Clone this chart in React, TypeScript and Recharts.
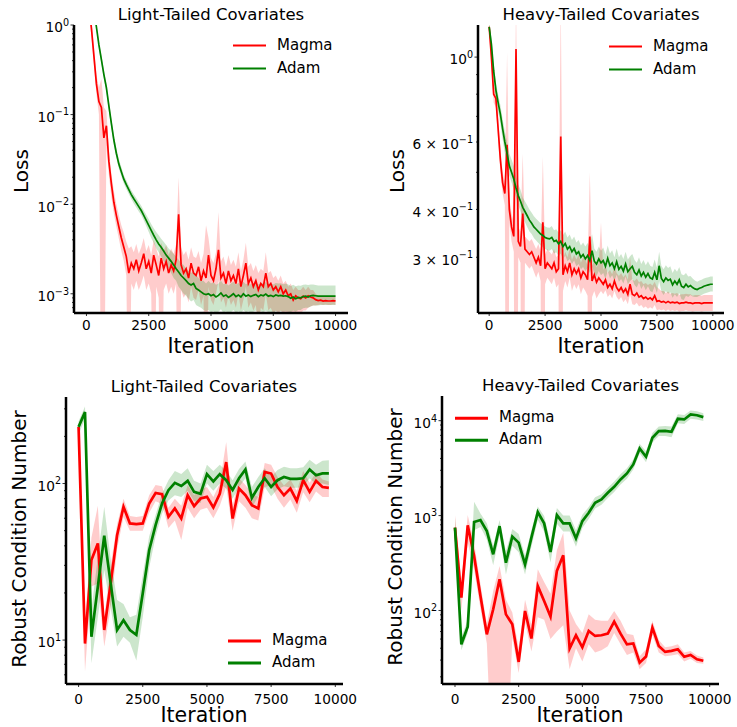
import { Area, ComposedChart, Legend, Line, XAxis, YAxis } from "recharts"

const FONT = "DejaVu Sans"
const RED = "#ff0000"
const GREEN = "#008000"

// iteration grids (loss logged every 100 steps, condition number every 250)
const topIters = Array.from({ length: 101 }, (_, i) => i * 100)
const bottomIters = Array.from({ length: 40 }, (_, i) => i * 250)

const xTicks = [0, 2500, 5000, 7500, 10000]

// ---- Loss, light-tailed covariates ----
const ltMagma = [
  2.6, 1.6, 0.92, 0.45, 0.22, 0.14, 0.12, 0.055, 0.075, 0.03,
  0.017, 0.0105, 0.0075, 0.0056, 0.0042, 0.0033, 0.0026, 0.0017, 0.0022, 0.0019,
  0.0024, 0.0018, 0.0022, 0.0028, 0.0019, 0.0023, 0.0017, 0.0027, 0.0021, 0.0016,
  0.0025, 0.0019, 0.0023, 0.0017, 0.0021, 0.0018, 0.0024, 0.0077, 0.0021, 0.0017,
  0.0019, 0.0015, 0.0022, 0.0017, 0.0016, 0.002, 0.0014, 0.0018, 0.0015, 0.0027,
  0.0016, 0.0014, 0.0019, 0.0031, 0.0015, 0.0017, 0.0013, 0.0018, 0.0014, 0.0016,
  0.0013, 0.0019, 0.0012, 0.0016, 0.0022, 0.0013, 0.0015, 0.0012, 0.0014, 0.0011,
  0.0013, 0.0012, 0.0017, 0.0012, 0.0013, 0.0011, 0.0012, 0.00105, 0.0012, 0.001,
  0.0011, 0.00095, 0.001, 0.00085, 0.00095, 0.0009, 0.00088, 0.00094, 0.0009, 0.00095,
  0.00092, 0.0009, 0.00086, 0.00084, 0.00085, 0.00083, 0.00084, 0.00083, 0.00083, 0.00084,
  0.00083,
]
const ltMagmaLo = [
  2.2, 1.3, 0.75, 0.36, 0.17, 0.1, 0.00001, 0.00001, 0.045, 0.021,
  0.012, 0.0078, 0.0056, 0.0041, 0.003, 0.0023, 0.0016, 0.00001, 0.0013, 0.0011,
  0.0014, 0.0011, 0.0013, 0.0016, 0.0011, 0.0013, 0.001, 0.00001, 0.0012, 0.0009,
  0.00001, 0.0011, 0.0013, 0.001, 0.0012, 0.001, 0.0013, 0.00001, 0.0011, 0.0009,
  0.001, 0.0008, 0.0012, 0.0009, 0.00085, 0.0011, 0.00075, 0.00095, 0.00001, 0.0012,
  0.00085, 0.00075, 0.001, 0.0014, 0.0008, 0.0009, 0.0007, 0.00095, 0.00075, 0.00085,
  0.0007, 0.001, 0.00065, 0.00085, 0.0012, 0.0007, 0.0008, 0.00065, 0.00075, 0.0004,
  0.0007, 0.00065, 0.001, 0.00065, 0.0007, 0.0006, 0.00065, 0.0006, 0.00065, 0.0006,
  0.00062, 0.00058, 0.0006, 0.00055, 0.0006, 0.0006, 0.0006, 0.00065, 0.00065, 0.0007,
  0.00072, 0.00074, 0.00074, 0.00075, 0.00076, 0.00075, 0.00076, 0.00075, 0.00075, 0.00076,
  0.00075,
]
const ltMagmaHi = [
  3.0, 1.9, 1.1, 0.55, 0.28, 0.2, 0.25, 0.12, 0.11, 0.04,
  0.022, 0.014, 0.01, 0.0075, 0.0058, 0.0048, 0.0038, 0.0032, 0.0034, 0.0029,
  0.0036, 0.0028, 0.0033, 0.0042, 0.003, 0.0035, 0.0027, 0.004, 0.0032, 0.0026,
  0.0037, 0.003, 0.0035, 0.0027, 0.0032, 0.0028, 0.0036, 0.02, 0.0033, 0.0027,
  0.003, 0.0024, 0.0033, 0.0026, 0.0025, 0.003, 0.0022, 0.0028, 0.0058, 0.0042,
  0.0025, 0.0022, 0.0029, 0.0082, 0.0023, 0.0026, 0.002, 0.0027, 0.0021, 0.0024,
  0.002, 0.0029, 0.0018, 0.0024, 0.0037, 0.002, 0.0022, 0.0018, 0.0021, 0.0017,
  0.0019, 0.0018, 0.0029, 0.0017, 0.0018, 0.0015, 0.0016, 0.0014, 0.0016, 0.0013,
  0.0014, 0.0012, 0.0013, 0.0011, 0.0012, 0.0011, 0.0011, 0.0012, 0.0011, 0.0012,
  0.0011, 0.0011, 0.001, 0.00095, 0.00095, 0.00093, 0.00093, 0.00092, 0.00092, 0.00093,
  0.00092,
]
const ltAdam = [
  6, 4, 2.5, 1.5, 0.95, 0.6, 0.41, 0.28, 0.2, 0.125,
  0.08, 0.052, 0.037, 0.028, 0.023, 0.019, 0.0165, 0.0145, 0.0128, 0.0115,
  0.0104, 0.0094, 0.0085, 0.0075, 0.0066, 0.0058, 0.0051, 0.0045, 0.004, 0.0036,
  0.0033, 0.003, 0.0027, 0.0025, 0.0023, 0.0021, 0.0019, 0.00175, 0.0016, 0.0015,
  0.0014, 0.0013, 0.00125, 0.0013, 0.00115, 0.0011, 0.00105, 0.001, 0.00098, 0.001,
  0.00095, 0.00098, 0.00092, 0.00096, 0.00102, 0.00094, 0.00097, 0.00091, 0.00095, 0.001,
  0.00093, 0.00097, 0.00092, 0.001, 0.00094, 0.00097, 0.00093, 0.00096, 0.00098, 0.00093,
  0.00097, 0.00095, 0.00099, 0.00094, 0.00096, 0.00093, 0.00097, 0.00095, 0.00096, 0.00094,
  0.00095, 0.00093, 0.00089, 0.00092, 0.00088, 0.00091, 0.0009, 0.00093, 0.00094, 0.00092,
  0.00095, 0.00096, 0.00095, 0.00094, 0.00094, 0.00094, 0.00094, 0.00094, 0.00094, 0.00094,
  0.00094,
]
const ltAdamLo = [
  5.6, 3.7, 2.3, 1.4, 0.88, 0.55, 0.37, 0.25, 0.18, 0.11,
  0.07, 0.046, 0.033, 0.025, 0.0205, 0.017, 0.0148, 0.013, 0.0114, 0.0102,
  0.0092, 0.0083, 0.0075, 0.0066, 0.0057, 0.0049, 0.0042, 0.0037, 0.0032, 0.0029,
  0.0026, 0.0023, 0.0021, 0.0019, 0.0017, 0.0015, 0.0014, 0.0012, 0.0011, 0.001,
  0.00095, 0.00088, 0.00082, 0.00085, 0.00075, 0.00072, 0.0007, 0.00066, 0.00064, 0.00066,
  0.00062, 0.00064, 0.0006, 0.00063, 0.00067, 0.00061, 0.00064, 0.0006, 0.00062, 0.00066,
  0.00061, 0.00064, 0.0006, 0.00066, 0.00062, 0.00064, 0.00061, 0.00063, 0.00065, 0.00061,
  0.00064, 0.00062, 0.00065, 0.00062, 0.00063, 0.00061, 0.00064, 0.00063, 0.00064, 0.00063,
  0.00064, 0.00063, 0.00062, 0.00065, 0.00063, 0.00066, 0.00066, 0.00069, 0.0007, 0.0007,
  0.00072, 0.00074, 0.00074, 0.00074, 0.00075, 0.00075, 0.00075, 0.00075, 0.00075, 0.00075,
  0.00075,
]
const ltAdamHi = [
  6.5, 4.3, 2.7, 1.6, 1.03, 0.65, 0.45, 0.31, 0.22, 0.14,
  0.09, 0.059, 0.042, 0.032, 0.026, 0.021, 0.0185, 0.0162, 0.0143, 0.0129,
  0.0117, 0.0106, 0.0096, 0.0085, 0.0076, 0.0068, 0.006, 0.0054, 0.0049, 0.0045,
  0.0041, 0.0038, 0.0035, 0.0032, 0.003, 0.0028, 0.0026, 0.0024, 0.0022, 0.0021,
  0.0019, 0.0018, 0.0017, 0.0018, 0.0016, 0.0015, 0.0014, 0.0014, 0.0013, 0.0014,
  0.0013, 0.00135, 0.00126, 0.0013, 0.0014, 0.00128, 0.00132, 0.00124, 0.0013, 0.00136,
  0.00127, 0.00132, 0.00126, 0.00136, 0.00128, 0.00132, 0.00127, 0.00131, 0.00133, 0.00127,
  0.00132, 0.0013, 0.00135, 0.00128, 0.00131, 0.00127, 0.00132, 0.0013, 0.00131, 0.00128,
  0.0013, 0.00127, 0.00122, 0.00126, 0.00121, 0.00124, 0.00123, 0.00126, 0.00127, 0.00125,
  0.00127, 0.00127, 0.00125, 0.00124, 0.00124, 0.00124, 0.00124, 0.00124, 0.00124, 0.00124,
  0.00124,
]

// ---- Loss, heavy-tailed covariates ----
const htMagma = [
  1.2, 1.0, 0.8, 0.78, 0.65, 0.54, 0.47, 0.44, 0.59, 0.4,
  0.36, 0.34, 1.05, 0.33, 0.32, 0.39, 0.315, 0.31, 0.305, 0.31,
  0.3, 0.29, 0.3, 0.285, 0.37, 0.28, 0.29, 0.285, 0.28, 0.29,
  0.275, 0.28, 0.62, 0.27, 0.285, 0.275, 0.29, 0.27, 0.28, 0.272,
  0.28, 0.265, 0.275, 0.27, 0.262, 0.34, 0.26, 0.27, 0.258, 0.265,
  0.26, 0.255, 0.262, 0.25, 0.255, 0.248, 0.26, 0.25, 0.245, 0.25,
  0.243, 0.248, 0.24, 0.255, 0.24, 0.238, 0.242, 0.236, 0.238, 0.234,
  0.236, 0.233, 0.235, 0.232, 0.238, 0.23, 0.231, 0.229, 0.23, 0.228,
  0.23, 0.228, 0.229, 0.228, 0.229, 0.227, 0.228, 0.228, 0.229, 0.228,
  0.228, 0.227, 0.228, 0.228, 0.228, 0.227, 0.228, 0.228, 0.228, 0.228,
  0.228,
]
const htMagmaLo = [
  1.15, 0.95, 0.76, 0.74, 0.61, 0.5, 0.44, 0.41, 0.01, 0.37,
  0.33, 0.31, 0.01, 0.3, 0.29, 0.01, 0.29, 0.285, 0.28, 0.285,
  0.275, 0.265, 0.275, 0.26, 0.01, 0.255, 0.265, 0.26, 0.255, 0.265,
  0.25, 0.255, 0.01, 0.245, 0.26, 0.25, 0.265, 0.245, 0.255, 0.248,
  0.255, 0.24, 0.25, 0.245, 0.238, 0.01, 0.236, 0.245, 0.234, 0.24,
  0.245, 0.24, 0.246, 0.236, 0.24, 0.234, 0.245, 0.236, 0.232, 0.236,
  0.229, 0.233, 0.226, 0.24, 0.226, 0.225, 0.228, 0.223, 0.225, 0.221,
  0.223, 0.22, 0.222, 0.22, 0.225, 0.218, 0.219, 0.218, 0.219, 0.217,
  0.219, 0.217, 0.218, 0.217, 0.218, 0.216, 0.217, 0.217, 0.218, 0.217,
  0.217, 0.216, 0.217, 0.217, 0.217, 0.216, 0.217, 0.217, 0.217, 0.217,
  0.217,
]
const htMagmaHi = [
  1.25, 1.05, 0.84, 0.82, 0.69, 0.58, 0.5, 0.47, 1.03, 0.43,
  0.39, 0.37, 1.4, 0.36, 0.35, 0.56, 0.34, 0.335, 0.33, 0.335,
  0.325, 0.315, 0.325, 0.31, 0.55, 0.305, 0.315, 0.31, 0.305, 0.315,
  0.3, 0.305, 1.4, 0.295, 0.31, 0.3, 0.315, 0.295, 0.305, 0.296,
  0.305, 0.29, 0.3, 0.295, 0.286, 0.5, 0.284, 0.295, 0.282, 0.29,
  0.37, 0.278, 0.286, 0.273, 0.278, 0.271, 0.284, 0.273, 0.268, 0.273,
  0.266, 0.271, 0.262, 0.3, 0.262, 0.26, 0.264, 0.258, 0.26, 0.255,
  0.257, 0.254, 0.256, 0.253, 0.259, 0.251, 0.248, 0.245, 0.245, 0.242,
  0.244, 0.241, 0.242, 0.241, 0.242, 0.239, 0.24, 0.24, 0.241, 0.24,
  0.24, 0.238, 0.239, 0.239, 0.239, 0.238, 0.239, 0.239, 0.239, 0.239,
  0.239,
]
const htAdam = [
  1.2, 1.08, 0.92, 0.82, 0.76, 0.71, 0.65, 0.6, 0.56, 0.52,
  0.5, 0.48, 0.455, 0.435, 0.42, 0.405, 0.395, 0.385, 0.375, 0.368,
  0.36, 0.355, 0.35, 0.345, 0.342, 0.338, 0.336, 0.335, 0.338, 0.33,
  0.332, 0.325, 0.33, 0.32, 0.326, 0.315, 0.32, 0.31, 0.316, 0.306,
  0.31, 0.3, 0.305, 0.297, 0.303, 0.294, 0.312, 0.293, 0.288, 0.297,
  0.29, 0.294, 0.284, 0.298, 0.285, 0.29, 0.28, 0.292, 0.279, 0.284,
  0.276, 0.288, 0.275, 0.28, 0.284, 0.274, 0.27, 0.278, 0.268, 0.274,
  0.266, 0.272, 0.265, 0.263, 0.274, 0.262, 0.285, 0.264, 0.259, 0.265,
  0.261, 0.263, 0.254, 0.26, 0.255, 0.262, 0.252, 0.25, 0.255, 0.251,
  0.253, 0.25, 0.248, 0.247, 0.249, 0.25, 0.252, 0.253, 0.254, 0.255,
  0.255,
]
const htAdamLo = [
  1.16, 1.04, 0.88, 0.78, 0.72, 0.67, 0.61, 0.56, 0.52, 0.49,
  0.47, 0.45, 0.43, 0.41, 0.395, 0.38, 0.37, 0.36, 0.35, 0.345,
  0.337, 0.332, 0.327, 0.322, 0.319, 0.315, 0.313, 0.312, 0.315, 0.307,
  0.309, 0.302, 0.307, 0.297, 0.303, 0.293, 0.297, 0.288, 0.294, 0.284,
  0.288, 0.279, 0.283, 0.276, 0.281, 0.273, 0.285, 0.272, 0.268, 0.276,
  0.269, 0.273, 0.263, 0.276, 0.264, 0.269, 0.26, 0.27, 0.259, 0.263,
  0.256, 0.267, 0.255, 0.26, 0.263, 0.254, 0.25, 0.258, 0.248, 0.254,
  0.246, 0.252, 0.245, 0.243, 0.252, 0.242, 0.26, 0.244, 0.239, 0.245,
  0.241, 0.243, 0.235, 0.24, 0.236, 0.242, 0.233, 0.232, 0.238, 0.236,
  0.239, 0.237, 0.236, 0.236, 0.238, 0.239, 0.241, 0.242, 0.243, 0.244,
  0.244,
]
const htAdamHi = [
  1.24, 1.12, 0.96, 0.86, 0.8, 0.75, 0.69, 0.64, 0.6, 0.56,
  0.54, 0.52, 0.49, 0.465, 0.45, 0.43, 0.42, 0.41, 0.4, 0.392,
  0.384, 0.378, 0.373, 0.368, 0.365, 0.361, 0.359, 0.358, 0.362, 0.353,
  0.355, 0.348, 0.353, 0.343, 0.35, 0.338, 0.344, 0.333, 0.34, 0.328,
  0.333, 0.322, 0.328, 0.32, 0.327, 0.317, 0.345, 0.316, 0.31, 0.32,
  0.312, 0.318, 0.305, 0.322, 0.307, 0.313, 0.3, 0.316, 0.3, 0.306,
  0.297, 0.31, 0.296, 0.302, 0.306, 0.295, 0.29, 0.3, 0.288, 0.295,
  0.286, 0.293, 0.285, 0.283, 0.296, 0.282, 0.31, 0.285, 0.279, 0.286,
  0.281, 0.284, 0.273, 0.28, 0.275, 0.283, 0.271, 0.269, 0.273, 0.267,
  0.268, 0.264, 0.261, 0.259, 0.261, 0.262, 0.264, 0.265, 0.266, 0.267,
  0.267,
]

// ---- Robust condition number, light-tailed ----
const lcMagma = [
  230, 9.5, 32.4, 41.4, 11.6, 23, 46.8, 71, 55.6, 55,
  55.6, 74.5, 87, 85.4, 61.3, 69.3, 59.8, 84.2, 71.6, 80.2,
  82.2, 70.3, 86, 137, 59.8, 92.9, 84.2, 72.8, 69.3, 118.6,
  115.8, 95, 84.2, 92.9, 77.4, 105, 88.5, 104, 95, 93.8,
]
const lcMagmaLo = [
  205, 6.3, 22, 23, 9.1, 16, 38, 61, 50, 50,
  50, 65, 77, 74, 52, 58, 43.5, 70, 60, 68,
  70, 60, 72, 95, 50, 77, 70, 60, 58, 95,
  97, 80, 70, 79, 65, 88, 76, 89, 82, 82,
]
const lcMagmaHi = [
  250, 13, 45, 72, 14, 30, 55, 80, 62, 61,
  62, 84, 98, 96, 70, 80, 72, 98, 84, 92,
  95, 82, 100, 184, 72, 108, 98, 86, 82, 135,
  132, 110, 97, 106, 90, 120, 101, 118, 106, 103,
]
const lcAdam = [
  230, 286, 10.5, 21.9, 46.4, 23, 11.6, 13.4, 11.6, 10.8,
  19.9, 37.5, 54.2, 74.5, 90.6, 101, 96.5, 104, 88.5, 86,
  114.7, 103, 114.7, 105, 91, 108, 122.8, 80.9, 95, 108,
  95, 105, 110, 107, 107, 108, 123, 113, 116, 116,
]
const lcAdamLo = [
  205, 260, 7.1, 14, 28, 16, 9.1, 10.5, 9.6, 7.4,
  14, 29, 46, 64, 78, 84, 82, 90, 77, 75,
  100, 90, 100, 93, 80, 95, 108, 70, 83, 95,
  83, 92, 96, 94, 94, 95, 108, 99, 100, 98,
]
const lcAdamHi = [
  250, 310, 15.5, 34, 71, 33, 18, 17, 14, 14.5,
  26, 46, 63, 86, 105, 120, 115, 125, 104, 100,
  132, 120, 132, 120, 105, 124, 138, 95, 110, 125,
  110, 122, 128, 125, 125, 127, 142, 132, 140, 141,
]

// ---- Robust condition number, heavy-tailed ----
const hcMagma = [
  747, 137, 789, 375, 142, 56, 103, 213, 91, 71.6,
  28.7, 98.9, 50.6, 181, 126, 86.3, 261, 381, 39.7, 54.8,
  40.9, 60.8, 53.9, 54.8, 57.1, 76.3, 57, 44, 45, 28.2,
  32.7, 66, 42.3, 36.6, 37.5, 39, 32.5, 34, 30.6, 29.5,
]
const hcMagmaLo = [
  519, 100, 519, 270, 105, 45, 1, 1, 1, 52,
  22, 75, 37, 85, 80, 50, 60, 70, 24, 40,
  29, 44, 36, 38, 42, 58, 44, 34, 36, 24,
  28, 55, 36, 33, 33.5, 34.5, 29, 31, 28, 27.5,
]
const hcMagmaHi = [
  1012, 200, 1012, 519, 190, 72, 160, 294, 130, 95,
  40, 130, 70, 272, 200, 150, 430, 660, 100, 72,
  58, 91, 80, 78, 78, 99, 78, 57, 55, 33,
  39, 78, 49, 41, 42, 44, 36, 37.5, 33.5, 32,
]
const hcAdam = [
  747, 44, 67.6, 855, 897, 687, 391, 774, 319, 600,
  519, 306, 585, 1088, 828, 413, 1012, 828, 828, 575,
  875, 1072, 1367, 1480, 1740, 2012, 2404, 2780, 3456, 5096,
  4170, 6600, 7760, 7800, 7650, 10470, 10300, 11610, 11400, 10900,
]
const hcAdamLo = [
  600, 38, 58, 700, 760, 560, 300, 620, 240, 480,
  410, 240, 470, 900, 680, 320, 820, 680, 680, 470,
  740, 920, 1190, 1300, 1530, 1770, 2120, 2450, 3050, 4550,
  3650, 5900, 6900, 6900, 6700, 9400, 9200, 10500, 10300, 9900,
]
const hcAdamHi = [
  960, 52, 80, 1400, 1050, 830, 480, 900, 420, 720,
  640, 380, 700, 1250, 990, 520, 1200, 1000, 1000, 700,
  1020, 1230, 1560, 1680, 1970, 2280, 2720, 3150, 3900, 5700,
  4750, 7400, 8700, 8800, 8700, 11700, 11500, 12800, 12600, 12000,
]

// y ticks (labelled ones, then unlabelled minor ticks)
const ltLabeled = [0.001, 0.01, 0.1, 1]
const ltMinor = [
  0.0007, 0.0008, 0.0009, 0.002, 0.003, 0.004, 0.005, 0.006, 0.007, 0.008, 0.009,
  0.02, 0.03, 0.04, 0.05, 0.06, 0.07, 0.08, 0.09, 0.2, 0.3, 0.4, 0.5, 0.6, 0.7, 0.8, 0.9,
]
const htLabeled = [0.3, 0.4, 0.6, 1]
const htMinor = [0.5, 0.7, 0.8, 0.9]
const lcLabeled = [10, 100]
const lcMinor = [6, 7, 8, 9, 20, 30, 40, 50, 60, 70, 80, 90, 200, 300]
const hcLabeled = [100, 1000, 10000]
const hcMinor = [
  20, 30, 40, 50, 60, 70, 80, 90, 200, 300, 400, 500, 600, 700, 800, 900,
  2000, 3000, 4000, 5000, 6000, 7000, 8000, 9000,
]

const series = [
  { name: "Magma", color: RED },
  { name: "Adam", color: GREEN },
]

type Row = {
  it: number
  magma: number
  magmaBand: [number, number]
  adam: number
  adamBand: [number, number]
}

function buildRows(
  iters: number[],
  magma: number[],
  magmaLo: number[],
  magmaHi: number[],
  adam: number[],
  adamLo: number[],
  adamHi: number[]
): Row[] {
  return iters.map((it, i) => ({
    it,
    magma: magma[i],
    magmaBand: [magmaLo[i], magmaHi[i]],
    adam: adam[i],
    adamBand: [adamLo[i], adamHi[i]],
  }))
}

function isPow10(v: number) {
  const e = Math.log10(v)
  return Math.abs(e - Math.round(e)) < 1e-6
}

function LogTick(props: any) {
  const { y, payload, axisX, labeled } = props
  const v = payload.value as number
  const major = isPow10(v)
  const hasLabel = labeled.some((t: number) => Math.abs(t - v) < v * 1e-6)
  const exp = Math.floor(Math.log10(v) + 1e-9)
  const mant = Math.round(v / Math.pow(10, exp))
  const expText = exp < 0 ? `\u2212${-exp}` : `${exp}`
  return (
    <g>
      <line x1={axisX - (major ? 3.5 : 2)} x2={axisX} y1={y} y2={y} stroke="#000" strokeWidth={0.8} />
      {hasLabel && (
        <text
          x={axisX - 5}
          y={y + 2.4}
          textAnchor="end"
          dominantBaseline="central"
          fontSize={13.7}
          fontFamily={FONT}
          fill="#000"
        >
          {mant === 1 ? "10" : `${mant} \u00d7 10`}
          <tspan dy={-5.5} fontSize={9.6}>
            {expText}
          </tspan>
        </text>
      )}
    </g>
  )
}

function LegendBox({ lineWidth, rowHeight }: { lineWidth: number; rowHeight: number }) {
  return (
    <div style={{ fontFamily: FONT, fontSize: 15, color: "#000" }}>
      {series.map((s) => (
        <div key={s.name} style={{ display: "flex", alignItems: "center", height: rowHeight }}>
          <svg width={33} height={rowHeight} style={{ display: "block" }}>
            <line x1={0} x2={33} y1={rowHeight / 2} y2={rowHeight / 2} stroke={s.color} strokeWidth={lineWidth} />
          </svg>
          <span style={{ marginLeft: 11, lineHeight: 1, whiteSpace: "nowrap" }}>{s.name}</span>
        </div>
      ))}
    </div>
  )
}

interface PanelProps {
  box: { left: number; top: number; width: number; height: number }
  margin: { top: number; right: number }
  yWidth: number
  xHeight: number
  xTickMargin: number
  xDomain: [number, number]
  yDomain: [number, number]
  yLabeled: number[]
  yMinor: number[]
  rows: Row[]
  lineWidth: number
  legend: { left: number; top: number; rowHeight: number; lineWidth: number }
  title: string
  titlePos: [number, number]
  yLabel: string
  yLabelPos: [number, number]
  xLabelPos: [number, number]
}

function Panel(p: PanelProps) {
  const textBase = {
    position: "absolute" as const,
    fontFamily: FONT,
    color: "#000",
    whiteSpace: "nowrap" as const,
    lineHeight: 1,
  }
  return (
    <div style={{ position: "absolute", ...p.box }}>
      <ComposedChart
        width={p.box.width}
        height={p.box.height}
        data={p.rows}
        margin={{ top: p.margin.top, right: p.margin.right, bottom: 0, left: 0 }}
      >
        <XAxis
          type="number"
          dataKey="it"
          domain={p.xDomain}
          ticks={xTicks}
          interval={0}
          allowDataOverflow
          height={p.xHeight}
          stroke="#000"
          axisLine={{ stroke: "#000", strokeWidth: 2.5 }}
          tickLine={{ stroke: "#000", strokeWidth: 0.8 }}
          tickSize={3}
          tickMargin={p.xTickMargin}
          tick={{ fontSize: 13.7, fill: "#000", fontFamily: FONT }}
        />
        <YAxis
          type="number"
          scale="log"
          domain={p.yDomain}
          ticks={[...p.yLabeled, ...p.yMinor]}
          interval={0}
          allowDataOverflow
          width={p.yWidth}
          axisLine={{ stroke: "#000", strokeWidth: 2.5 }}
          tickLine={false}
          tick={(t: any) => <LogTick {...t} axisX={p.yWidth} labeled={p.yLabeled} />}
        />
        <Area
          dataKey="magmaBand"
          stroke="none"
          fill={RED}
          fillOpacity={0.2}
          isAnimationActive={false}
          legendType="none"
        />
        <Area
          dataKey="adamBand"
          stroke="none"
          fill={GREEN}
          fillOpacity={0.2}
          isAnimationActive={false}
          legendType="none"
        />
        <Line dataKey="magma" stroke={RED} strokeWidth={p.lineWidth} dot={false} isAnimationActive={false} />
        <Line dataKey="adam" stroke={GREEN} strokeWidth={p.lineWidth} dot={false} isAnimationActive={false} />
        <Legend
          layout="vertical"
          align="center"
          verticalAlign="middle"
          wrapperStyle={{ left: p.legend.left, top: p.legend.top, width: "auto" }}
          content={() => <LegendBox lineWidth={p.legend.lineWidth} rowHeight={p.legend.rowHeight} />}
        />
      </ComposedChart>
      <div
        style={{
          ...textBase,
          fontSize: 16.5,
          left: p.titlePos[0],
          top: p.titlePos[1],
          transform: "translate(-50%, -50%)",
        }}
      >
        {p.title}
      </div>
      <div
        style={{
          ...textBase,
          fontSize: 20.5,
          left: p.xLabelPos[0],
          top: p.xLabelPos[1],
          transform: "translate(-50%, -50%)",
        }}
      >
        Iteration
      </div>
      <div
        style={{
          ...textBase,
          fontSize: 20,
          left: p.yLabelPos[0],
          top: p.yLabelPos[1],
          transform: "translate(-50%, -50%) rotate(-90deg)",
        }}
      >
        {p.yLabel}
      </div>
    </div>
  )
}

export default function App() {
  const ltRows = buildRows(topIters, ltMagma, ltMagmaLo, ltMagmaHi, ltAdam, ltAdamLo, ltAdamHi)
  const htRows = buildRows(topIters, htMagma, htMagmaLo, htMagmaHi, htAdam, htAdamLo, htAdamHi)
  const lcRows = buildRows(bottomIters, lcMagma, lcMagmaLo, lcMagmaHi, lcAdam, lcAdamLo, lcAdamHi)
  const hcRows = buildRows(bottomIters, hcMagma, hcMagmaLo, hcMagmaHi, hcAdam, hcAdamLo, hcAdamHi)

  return (
    <div style={{ position: "absolute", left: 0, top: 0, width: 737, height: 727, background: "#fff" }}>
      <Panel
        box={{ left: 0, top: 0, width: 368, height: 365 }}
        margin={{ top: 25, right: 20 }}
        yWidth={74}
        xHeight={52}
        xTickMargin={4}
        xDomain={[-500, 10500]}
        yDomain={[0.00061, 1]}
        yLabeled={ltLabeled}
        yMinor={ltMinor}
        rows={ltRows}
        lineWidth={1.7}
        legend={{ left: 233, top: 33.5, rowHeight: 23, lineWidth: 2 }}
        title="Light-Tailed Covariates"
        titlePos={[211, 15]}
        yLabel="Loss"
        yLabelPos={[21, 171]}
        xLabelPos={[211, 345.5]}
      />
      <Panel
        box={{ left: 368, top: 0, width: 369, height: 365 }}
        margin={{ top: 25, right: 13 }}
        yWidth={110}
        xHeight={52}
        xTickMargin={4}
        xDomain={[-500, 10500]}
        yDomain={[0.2145, 1.213]}
        yLabeled={htLabeled}
        yMinor={htMinor}
        rows={htRows}
        lineWidth={1.7}
        legend={{ left: 241, top: 35, rowHeight: 23, lineWidth: 2 }}
        title="Heavy-Tailed Covariates"
        titlePos={[233, 15]}
        yLabel="Loss"
        yLabelPos={[29, 171]}
        xLabelPos={[233, 345.5]}
      />
      <Panel
        box={{ left: 0, top: 365, width: 368, height: 362 }}
        margin={{ top: 32, right: 25 }}
        yWidth={66}
        xHeight={43}
        xTickMargin={7}
        xDomain={[-490, 10300]}
        yDomain={[5.24, 357]}
        yLabeled={lcLabeled}
        yMinor={lcMinor}
        rows={lcRows}
        lineWidth={2.7}
        legend={{ left: 228, top: 264.7, rowHeight: 22, lineWidth: 3 }}
        title="Light-Tailed Covariates"
        titlePos={[204, 21.7]}
        yLabel="Robust Condition Number"
        yLabelPos={[18.5, 174]}
        xLabelPos={[204, 349.5]}
      />
      <Panel
        box={{ left: 368, top: 365, width: 369, height: 362 }}
        margin={{ top: 31, right: 18 }}
        yWidth={74}
        xHeight={43}
        xTickMargin={7}
        xDomain={[-510, 10365]}
        yDomain={[16.8, 18200]}
        yLabeled={hcLabeled}
        yMinor={hcMinor}
        rows={hcRows}
        lineWidth={2.7}
        legend={{ left: 87, top: 41.5, rowHeight: 22.3, lineWidth: 3 }}
        title="Heavy-Tailed Covariates"
        titlePos={[212.5, 21]}
        yLabel="Robust Condition Number"
        yLabelPos={[27, 172]}
        xLabelPos={[212, 349.5]}
      />
    </div>
  )
}
